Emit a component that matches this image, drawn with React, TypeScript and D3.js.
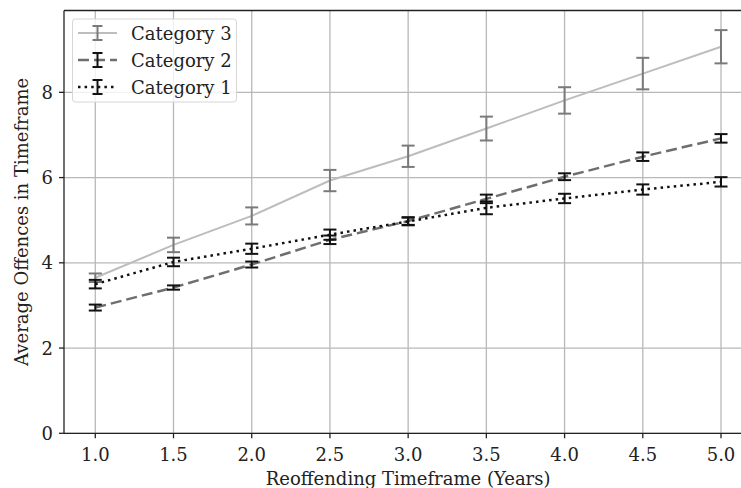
import { useEffect, useRef } from 'react';
import * as d3 from 'd3';

const timeframes = [1.0, 1.5, 2.0, 2.5, 3.0, 3.5, 4.0, 4.5, 5.0];

const cat1Mean = [3.5, 4.02, 4.33, 4.66, 4.97, 5.29, 5.51, 5.72, 5.9];
const cat1Err = [0.1, 0.1, 0.12, 0.12, 0.09, 0.15, 0.11, 0.12, 0.11];

const cat2Mean = [2.95, 3.42, 3.96, 4.54, 4.98, 5.5, 6.02, 6.49, 6.92];
const cat2Err = [0.07, 0.05, 0.07, 0.1, 0.09, 0.1, 0.08, 0.1, 0.1];

const cat3Mean = [3.65, 4.42, 5.1, 5.93, 6.5, 7.15, 7.81, 8.44, 9.07];
const cat3Err = [0.1, 0.17, 0.2, 0.25, 0.25, 0.28, 0.31, 0.37, 0.39];

const xTicks = [1.0, 1.5, 2.0, 2.5, 3.0, 3.5, 4.0, 4.5, 5.0];
const yTicks = [0, 2, 4, 6, 8];

interface Series {
  name: string;
  mean: number[];
  err: number[];
  lineColor: string;
  errColor: string;
  dash: string;
  lineWidth: number;
}

const series: Series[] = [
  { name: 'Category 3', mean: cat3Mean, err: cat3Err, lineColor: '#bdbdbd', errColor: '#7a7a7a', dash: 'none', lineWidth: 2 },
  { name: 'Category 2', mean: cat2Mean, err: cat2Err, lineColor: '#6e6e6e', errColor: '#111', dash: '11,5', lineWidth: 2.5 },
  { name: 'Category 1', mean: cat1Mean, err: cat1Err, lineColor: '#111', errColor: '#111', dash: '2.5,4.1', lineWidth: 2.5 },
];

const FONT = '"DejaVu Serif", serif';
const FS = 18;

export default function App() {
  const svgRef = useRef<SVGSVGElement>(null);

  useEffect(() => {
    document.body.style.margin = '0';
    if (!svgRef.current) return;
    const svg = d3.select(svgRef.current);
    svg.selectAll('*').remove();

    const width = 741;
    const height = 488;
    svg.attr('width', width).attr('height', height);

    const left = 64;
    const top = 10.5;
    const bottom = 433.3;

    const xScale = d3.scaleLinear().domain([0.8, 5.2]).range([left, 752.3]);
    const yScale = d3.scaleLinear().domain([0, 9.92]).range([bottom, top]);

    svg.append('rect').attr('width', width).attr('height', height).attr('fill', '#fff');

    // grid
    const grid = svg.append('g');
    xTicks.forEach(t => {
      grid.append('line')
        .attr('x1', xScale(t)).attr('x2', xScale(t))
        .attr('y1', top).attr('y2', bottom)
        .attr('stroke', '#b8b8b8').attr('stroke-width', 1.3);
    });
    yTicks.forEach(t => {
      grid.append('line')
        .attr('x1', left).attr('x2', width)
        .attr('y1', yScale(t)).attr('y2', yScale(t))
        .attr('stroke', '#b8b8b8').attr('stroke-width', 1.3);
    });

    // series
    series.forEach(s => {
      const line = d3.line<number>()
        .x((_, i) => xScale(timeframes[i]))
        .y(d => yScale(d));
      svg.append('path')
        .datum(s.mean)
        .attr('fill', 'none')
        .attr('stroke', s.lineColor)
        .attr('stroke-width', s.lineWidth)
        .attr('stroke-dasharray', s.dash)
        .attr('d', line);

      const eg = svg.append('g').attr('stroke', s.errColor).attr('stroke-width', 2);
      s.mean.forEach((m, i) => {
        const x = xScale(timeframes[i]);
        const y0 = yScale(m - s.err[i]);
        const y1 = yScale(m + s.err[i]);
        eg.append('line').attr('x1', x).attr('x2', x).attr('y1', y0).attr('y2', y1);
        eg.append('line').attr('x1', x - 6.5).attr('x2', x + 6.5).attr('y1', y0).attr('y2', y0);
        eg.append('line').attr('x1', x - 6.5).attr('x2', x + 6.5).attr('y1', y1).attr('y2', y1);
      });
    });

    // spines
    svg.append('line').attr('x1', left).attr('x2', width).attr('y1', top).attr('y2', top)
      .attr('stroke', '#222').attr('stroke-width', 1.3);
    svg.append('line').attr('x1', left).attr('x2', width).attr('y1', bottom).attr('y2', bottom)
      .attr('stroke', '#222').attr('stroke-width', 1.3);
    svg.append('line').attr('x1', left).attr('x2', left).attr('y1', top).attr('y2', bottom)
      .attr('stroke', '#222').attr('stroke-width', 1.3);

    // x ticks
    xTicks.forEach(t => {
      svg.append('line')
        .attr('x1', xScale(t)).attr('x2', xScale(t))
        .attr('y1', bottom).attr('y2', bottom + 5)
        .attr('stroke', '#222').attr('stroke-width', 1.3);
      svg.append('text')
        .attr('x', xScale(t)).attr('y', 454)
        .attr('text-anchor', 'middle').attr('dominant-baseline', 'central')
        .attr('font-family', FONT).attr('font-size', FS).attr('fill', '#222')
        .text(d3.format('.1f')(t));
    });

    // y ticks
    yTicks.forEach(t => {
      svg.append('line')
        .attr('x1', left - 5).attr('x2', left)
        .attr('y1', yScale(t)).attr('y2', yScale(t))
        .attr('stroke', '#222').attr('stroke-width', 1.3);
      svg.append('text')
        .attr('x', left - 11).attr('y', yScale(t))
        .attr('text-anchor', 'end').attr('dominant-baseline', 'central')
        .attr('font-family', FONT).attr('font-size', FS).attr('fill', '#222')
        .text(t);
    });

    // axis labels
    svg.append('text')
      .attr('x', xScale(3)).attr('y', 478)
      .attr('text-anchor', 'middle').attr('dominant-baseline', 'central')
      .attr('font-family', FONT).attr('font-size', FS).attr('fill', '#222')
      .text('Reoffending Timeframe (Years)');

    svg.append('text')
      .attr('transform', `translate(21, ${(top + bottom) / 2}) rotate(-90)`)
      .attr('text-anchor', 'middle').attr('dominant-baseline', 'central')
      .attr('font-family', FONT).attr('font-size', FS).attr('fill', '#222')
      .text('Average Offences in Timeframe');

    // legend
    const lg = svg.append('g');
    lg.append('rect')
      .attr('x', 72.5).attr('y', 19).attr('width', 164).attr('height', 83)
      .attr('rx', 3).attr('fill', '#fff').attr('fill-opacity', 0.8)
      .attr('stroke', '#d6d6d6').attr('stroke-width', 1);
    series.forEach((s, i) => {
      const cy = 33 + i * 27;
      lg.append('line')
        .attr('x1', 78).attr('x2', 117).attr('y1', cy).attr('y2', cy)
        .attr('stroke', s.lineColor).attr('stroke-width', s.lineWidth)
        .attr('stroke-dasharray', s.dash);
      const cx = 97.5;
      const eg = lg.append('g').attr('stroke', s.errColor).attr('stroke-width', 2);
      eg.append('line').attr('x1', cx).attr('x2', cx).attr('y1', cy - 7).attr('y2', cy + 7);
      eg.append('line').attr('x1', cx - 5).attr('x2', cx + 5).attr('y1', cy - 7).attr('y2', cy - 7);
      eg.append('line').attr('x1', cx - 5).attr('x2', cx + 5).attr('y1', cy + 7).attr('y2', cy + 7);
      lg.append('text')
        .attr('x', 131).attr('y', cy)
        .attr('dominant-baseline', 'central')
        .attr('font-family', FONT).attr('font-size', FS).attr('fill', '#222')
        .text(s.name);
    });
  }, []);

  return <svg ref={svgRef} style={{ display: 'block' }} />;
}
